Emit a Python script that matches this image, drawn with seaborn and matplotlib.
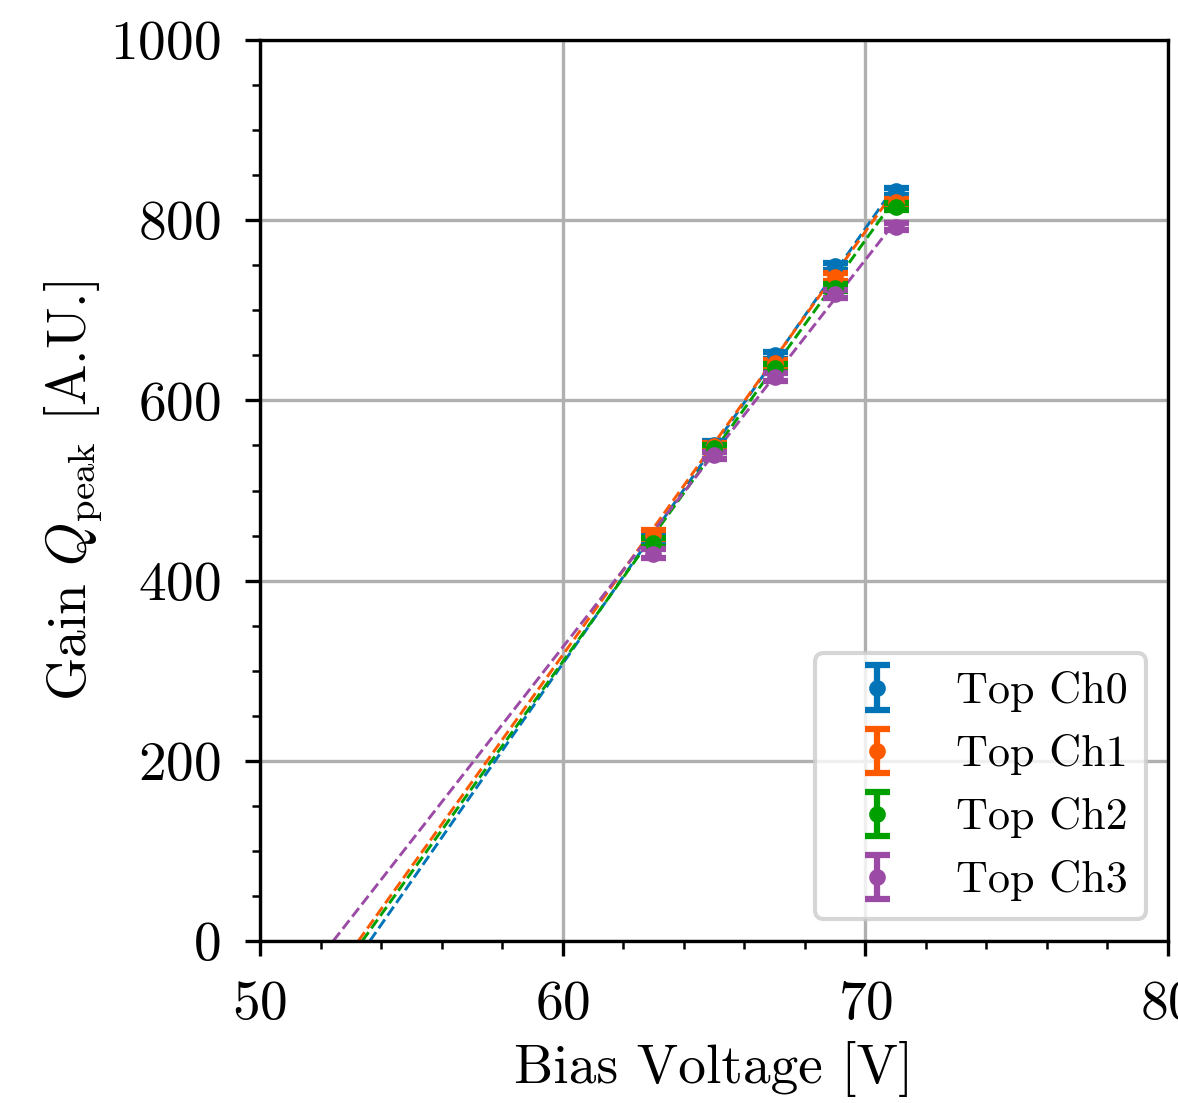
import numpy as np
import pandas as pd
import matplotlib
matplotlib.use("Agg")
import matplotlib.pyplot as plt
from matplotlib.ticker import MultipleLocator
import seaborn as sns

# measured gain per channel
voltage = [63, 65, 67, 69, 71]
gain_ch0 = [447, 551, 650, 749, 832]
gain_ch1 = [451, 549, 641, 737, 820]
gain_ch2 = [442, 547, 636, 725, 815]
gain_ch3 = [430, 539, 626, 718, 793]
gain_err = [5, 4, 4, 4, 4]

labels = ["Top Ch0", "Top Ch1", "Top Ch2", "Top Ch3"]
colors = ["#0173b7", "#fd5a00", "#00a000", "#9b4ba6"]

# linear fit: breakdown voltage and slope
fit_vbd = [53.63, 53.25, 53.38, 52.42]
fit_slope = [48.3, 47.0, 46.8, 43.0]

plt.rcParams["font.family"] = "serif"
plt.rcParams["font.serif"] = ["cmr10"]
plt.rcParams["mathtext.fontset"] = "cm"
plt.rcParams["axes.formatter.use_mathtext"] = True
plt.rcParams["font.size"] = 13.3
plt.rcParams["xtick.major.pad"] = 6
plt.rcParams["ytick.major.pad"] = 6

fig = plt.figure(figsize=(1178 / 300, 1103 / 300), dpi=300)
ax = fig.add_axes([0.2207, 0.1469, 0.7708, 0.8168])

gains = [gain_ch0, gain_ch1, gain_ch2, gain_ch3]

# dashed fit lines from breakdown voltage up to the last point
rows = []
for lab, vbd, k in zip(labels, fit_vbd, fit_slope):
    for v in (vbd, voltage[-1]):
        rows.append({"ch": lab, "V": v, "G": k * (v - vbd)})
fit_df = pd.DataFrame(rows)
sns.lineplot(data=fit_df, x="V", y="G", hue="ch", palette=colors,
             linestyle="--", linewidth=0.7, legend=False, ax=ax, zorder=2)

for g, lab, c in zip(gains, labels, colors):
    ax.errorbar(voltage, g, yerr=gain_err, fmt="o", ms=3, color=c,
                capsize=3, elinewidth=1.5, capthick=1.5, label=lab, zorder=3)

ax.set_xlim(50, 80)
ax.set_ylim(0, 1000)
ax.xaxis.set_major_locator(MultipleLocator(10))
ax.xaxis.set_minor_locator(MultipleLocator(2))
ax.yaxis.set_major_locator(MultipleLocator(200))
ax.yaxis.set_minor_locator(MultipleLocator(50))
ax.grid(True, which="major", color="#b0b0b0", linewidth=0.8)
ax.set_axisbelow(True)

ax.set_xlabel("Bias Voltage [V]", labelpad=2.5)
ax.set_ylabel(r"Gain $Q_{\mathrm{peak}}$ [A.U.]", labelpad=1.5)
ax.legend(loc="lower right", fontsize=10.6)

fig.savefig("out.png", dpi=300)
